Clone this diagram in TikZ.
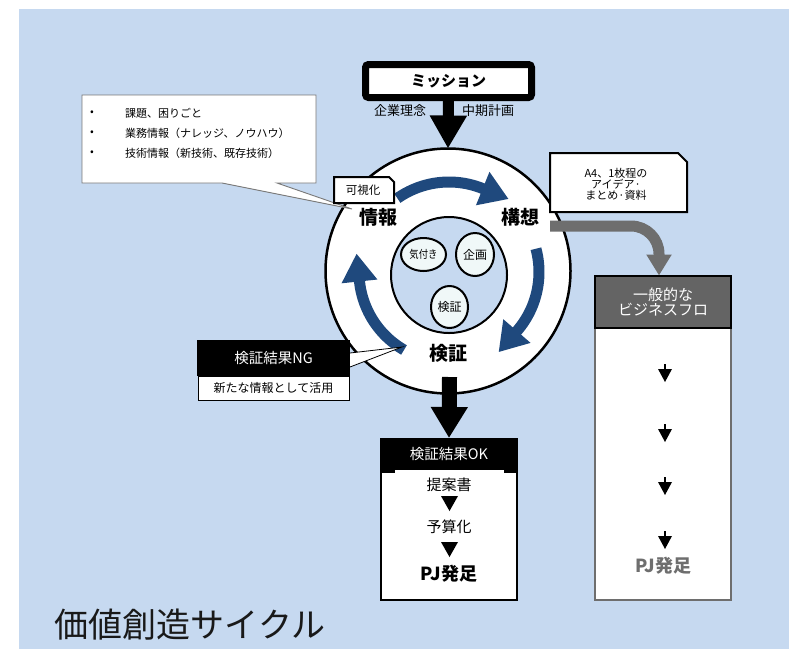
\documentclass[tikz,border=0pt]{standalone}
\usepackage{fontspec}
\usepackage{graphicx}
\setmainfont{Noto Sans CJK JP}
\usetikzlibrary{arrows.meta,shapes.geometric}
\definecolor{bgblue}{RGB}{198,217,240}
\definecolor{arrowblue}{RGB}{31,73,125}
\definecolor{headgray}{RGB}{100,100,100}
\definecolor{arrowgray}{RGB}{110,110,110}
\definecolor{eclfill}{RGB}{240,248,248}
\definecolor{calloutgray}{RGB}{120,120,120}
\newcommand\fsz[1]{\fontsize{#1}{#1}\selectfont}
\newcommand\cyclearrow[2]{%
  \draw[bluearr] plot[domain=#1:#2,samples=40] ({449+90*cos(\x)},{272-90*sin(\x)})
    -- ({449+90*cos(#2)+28*sin(#2)},{272-90*sin(#2)+28*cos(#2)});}
\newcommand\flowtip[2]{%
  \draw[line width=2pt] (#1,#2) -- (#1,{#2+6});
  \fill (#1-7,#2+5) -- (#1+7,#2+5) -- (#1,#2+18) -- cycle;}
\tikzset{
  bluearr/.style={line width=11pt,draw=arrowblue,-{Triangle[length=28pt,width=34pt]}},
  smallell/.style={ellipse,draw,line width=2pt,fill=eclfill,font=\fsz{12}},
  cyclelabel/.style={font=\bfseries\fsz{19}},
  calloutline/.style={fill=white,draw=calloutgray,line width=0.9pt},
}
\begin{document}
\begin{tikzpicture}[x=1pt,y=-1pt,every node/.style={inner sep=0pt,outer sep=0pt}]
\useasboundingbox (0,0) rectangle (789,649);
\fill[white] (0,0) rectangle (789,649);
\fill[bgblue] (19,9) rectangle (789,649);

% main cycle
\node[circle,draw,line width=2.5pt,fill=white,minimum size=245pt] (outer) at (448,271) {};
\node[circle,draw,line width=2pt,fill=bgblue,minimum size=116pt] (inner) at (449,275) {};
\node[smallell,minimum width=45pt,minimum height=33pt] (kiduki) at (423.5,254.5) {\scalebox{0.85}[1]{\fsz{11}気付き}};
\node[smallell,minimum width=38pt,minimum height=43pt] (kikaku) at (475,254.5) {企画};
\node[smallell,minimum width=37pt,minimum height=42pt] (kensmall) at (449.5,307) {検証};

\cyclearrow{125}{68}
\cyclearrow{15}{-41}
\cyclearrow{240}{186}

\node[cyclelabel] (joho) at (378,217) {情報};
\node[cyclelabel] (koso) at (520,217) {構想};
\node[cyclelabel] (kensho) at (448,353) {検証};

% mission
\node[draw,line width=7pt,rounded corners=3pt,fill=white,minimum width=166pt,minimum height=33pt,font=\bfseries\fsz{15}] (mission) at (448.5,81) {ミッション};
\draw[line width=11pt,-{Triangle[length=33pt,width=35pt]}] (mission.south) -- (outer.north);
\node[font=\fsz{13}] (rinen) at (400,111) {企業理念};
\node[font=\fsz{13}] (keikaku) at (488,111) {中期計画};

% info callout
\draw[calloutline] (82,95) -- (316,95) -- (316,183) -- (277,183) -- (352,209) -- (222,183) -- (82,183) -- cycle;
\node[font=\fsz{11}] (b1) at (92,113) {•};
\node[font=\fsz{11}] (b2) at (92,133) {•};
\node[font=\fsz{11}] (b3) at (92,153) {•};
\node[font=\fsz{11},anchor=west] (t1) at (125,113) {課題、困りごと};
\node[font=\fsz{11},anchor=west] (t2) at (125,133) {業務情報（ナレッジ、ノウハウ）};
\node[font=\fsz{11},anchor=west] (t3) at (125,153) {技術情報（新技術、既存技術）};

% visualise tag
\draw[fill=white,line width=2pt] (334,177) -- (389,177) -- (394,182) -- (394,203) -- (334,203) -- cycle;
\node[font=\fsz{11.5}] (kashika) at (363,190) {可視化};

% A4 note
\draw[fill=white,line width=2pt] (550,153) -- (678,153) -- (687,162) -- (687,212) -- (550,212) -- cycle;
\node[font=\fsz{11},align=center] (a4) at (616,184) {\fontsize{11}{13}\selectfont A4、1枚程の\\アイデア·\\まとめ·資料};

% general business flow
\node[draw=arrowgray,line width=2pt,fill=white,minimum width=136pt,minimum height=272pt] (bizbody) at (663,464) {};
\node[fill=headgray,draw=black,line width=2pt,minimum width=136pt,minimum height=52pt,text=white,align=center,font=\fsz{15}] (bizhead) at (663,301.5) {\fontsize{15}{18}\selectfont 一般的な\\ビジネスフロ};
\coordinate (gstart) at (550,226);
\draw[line width=11pt,arrowgray,rounded corners=28pt,-{Triangle[length=21pt,width=24pt]}] (gstart) -| ([xshift=-4pt]bizhead.north);
\flowtip{665}{364}
\flowtip{665}{424}
\flowtip{665}{477}
\flowtip{665}{531}
\node[font=\bfseries\fsz{18},text=arrowgray] (pjgray) at (663,566) {PJ発足};

% NG box
\node[fill=white,draw,line width=0.8pt,minimum width=151pt,minimum height=24pt,font=\fsz{12}] (ngbody) at (273.5,388) {新たな情報として活用};
\node[fill=black,minimum width=153pt,minimum height=36pt,text=white,font=\fsz{14.5}] (nghead) at (273.5,358) {検証結果NG};
\draw[fill=white,line width=0.8pt] (nghead.east |- 0,353) -- (402,347) -- (nghead.east |- 0,367);

% OK box
\node[draw,line width=2pt,fill=white,minimum width=136pt,minimum height=161pt] (okbody) at (449,519.5) {};
\node[fill=black,minimum width=138pt,minimum height=32pt,text=white,font=\fsz{14.5}] (okhead) at (449,454) {検証結果OK};
\fill (380,469) rectangle (395,473);
\fill (504,469) rectangle (518,473);
\coordinate (okstart) at (449.5,377);
\draw[line width=15pt,-{Triangle[length=31pt,width=35pt]}] (okstart) -- (okhead.north);
\node[font=\fsz{15}] (teian) at (449,485) {提案書};
\fill (441,496) -- (458,496) -- (449.5,511) -- cycle;
\node[font=\fsz{15}] (yosan) at (449,527) {予算化};
\fill (441,542) -- (458,542) -- (449.5,557) -- cycle;
\node[font=\bfseries\fsz{18}] (pjok) at (449,574) {PJ発足};

% title
\node[font=\fsz{34},text={rgb,255:red,25;green,25;blue,25}] (title) at (190,625) {価値創造サイクル};
\end{tikzpicture}
\end{document}
